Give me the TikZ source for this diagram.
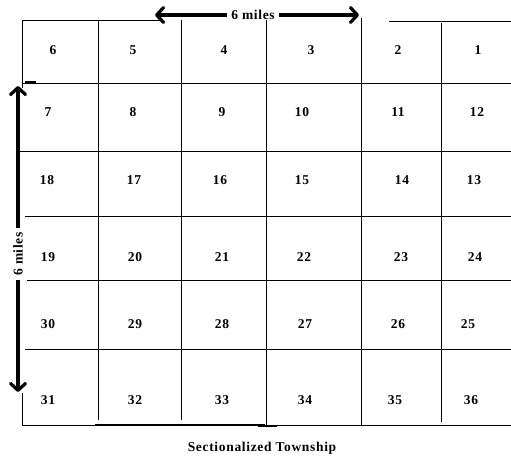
\documentclass[tikz,border=0pt]{standalone}
\usepackage{fontspec}
\setmainfont{Liberation Serif}[LetterSpace=5]
\usetikzlibrary{arrows.meta}

\begin{document}
\begin{tikzpicture}[
  x=1pt, y=-1pt,
  >={Straight Barb[length=7pt,width=15pt,round]},
  font=\fontsize{13.5}{15}\selectfont\bfseries,
  grid/.style={line width=1pt, black},
  num/.style={inner sep=0},
  span/.style={->, line width=3.2pt},
  lbl/.style={inner sep=4pt},
]
  \useasboundingbox (0,0) rectangle (511,458);

  % section lines
  \draw[grid] (22,20) -- (160,20) (389,21) -- (511,21);
  \foreach \y/\xa in {83/22, 151/20, 216/25, 280/27, 349/25, 425/22}
    \draw[grid] (\xa,\y) -- (511,\y);
  \draw[grid, line width=1.8pt] (25,82) -- (36,82) (95,425) -- (265,425) (258,426) -- (277,426);
  \draw[grid] (22,20) -- (22,88) (22,393) -- (22,425);
  \foreach \x/\ya/\yb in {98/20/420, 181/20/420, 266/20/425, 361/18/425, 441/23/422}
    \draw[grid] (\x,\ya) -- (\x,\yb);

  % section numbers
  \foreach \n/\x/\y in {6/53/50, 5/133/50, 4/224/50, 3/311/50, 2/398/50, 1/478/50,
      7/48/112, 8/133/112, 9/222/112, 10/302/112, 11/398/112, 12/477/112,
      18/47/180, 17/134/180, 16/220/180, 15/302/180, 14/402/180, 13/474/180,
      19/48/257, 20/135/257, 21/222/257, 22/304/257, 23/401/257, 24/475/257,
      30/48/324, 29/135/324, 28/222/324, 27/305/324, 26/398/324, 25/468/324,
      31/48/400, 32/135/400, 33/222/400, 34/305/400, 35/395/400, 36/471/400}
    \node[num] (s\n) at (\x,\y) {\n};

  % dimensions
  \node[lbl] (topmi) at (253,15) {6 miles};
  \coordinate (tleft) at (155,15);
  \coordinate (tright) at (359,15);
  \draw[span] (topmi) -- (tleft);
  \draw[span] (topmi) -- (tright);

  \node[lbl, rotate=90] (sidemi) at (18,254) {6 miles};
  \coordinate (stop) at (18,86);
  \coordinate (sbot) at (18,392);
  \draw[span] (sidemi) -- (stop);
  \draw[span] (sidemi) -- (sbot);

  \node (title) at (262,448) {Sectionalized Township};
\end{tikzpicture}
\end{document}
